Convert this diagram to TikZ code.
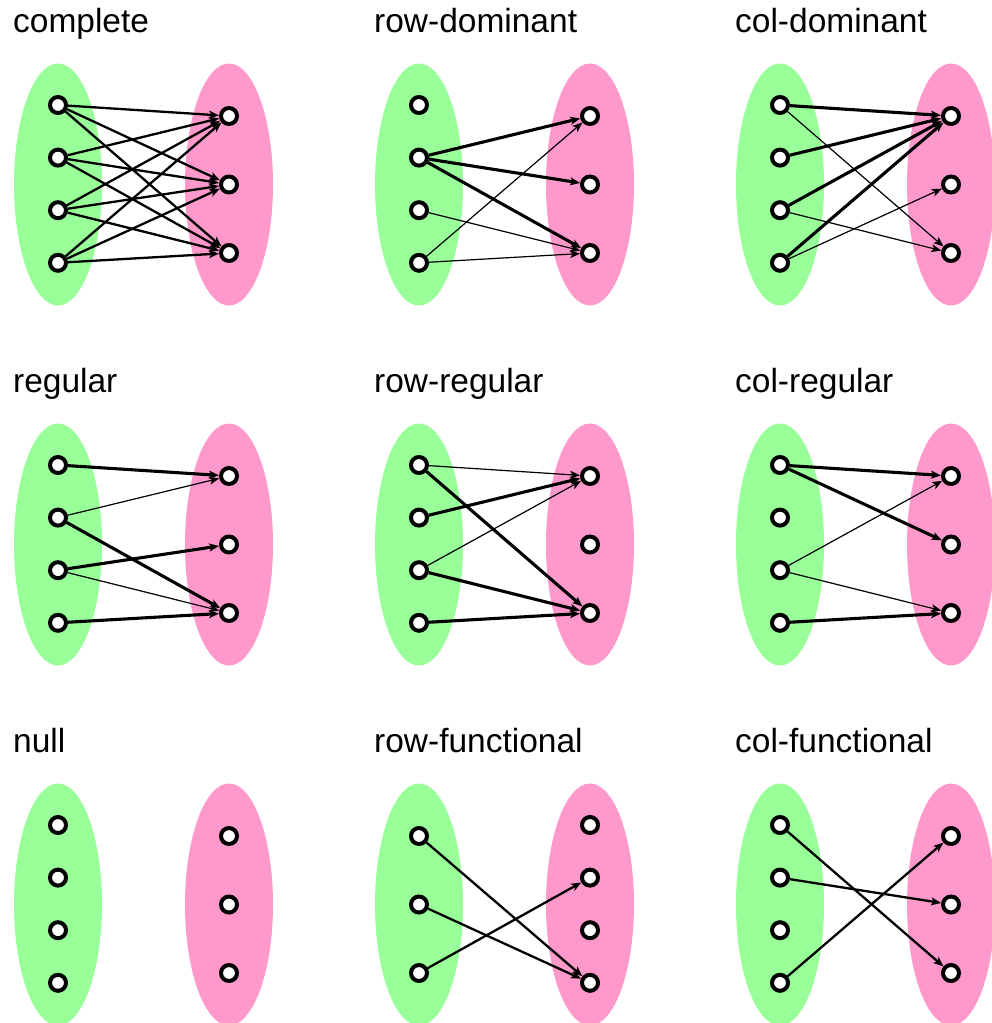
\documentclass[tikz,border=0pt]{standalone}
\usepackage{fontspec}
\setmainfont{Liberation Sans}
\usepackage{tikz}
\usetikzlibrary{arrows.meta,shapes.geometric,positioning}

\definecolor{setgreen}{RGB}{153,255,153}
\definecolor{setpink}{RGB}{255,153,204}

\begin{document}
\begin{tikzpicture}[x=1pt,y=-1pt,->,>={Stealth[length=10pt,width=8pt,inset=2.5pt]},
                    line width=2.3pt,node distance=52.6pt]
  \tikzstyle{vertex}=[circle,draw,fill=white,line width=4pt,inner sep=0pt,minimum size=16pt]
  \tikzstyle{rowset}=[ellipse,fill=setgreen,draw=none,minimum width=88pt,minimum height=242pt]
  \tikzstyle{colset}=[ellipse,fill=setpink,draw=none,minimum width=88pt,minimum height=242pt]
  \tikzstyle{title}=[anchor=base west,inner sep=0pt,font=\fontsize{33.5}{40}\selectfont]
  \tikzstyle{heavy}=[line width=3.1pt]
  \tikzstyle{light}=[line width=1.2pt]
  \tikzstyle{wide}=[node distance=68.5pt]

  \useasboundingbox (0,0) rectangle (992,1023);

  % complete
  \begin{scope}[shift={(0,0)}]
    \node[rowset] (coG) at (58,184.5) {};
    \node[colset] (coP) at (229,184.5) {};
    \node[title]  (coT) at (12,32) {complete};
    \node[vertex] (coL1) at (58,105) {};
    \node[vertex] (coL2) [below of=coL1] {};
    \node[vertex] (coL3) [below of=coL2] {};
    \node[vertex] (coL4) [below of=coL3] {};
    \node[vertex] (coR1) at (229,116) {};
    \node[vertex] (coR2) [below of=coR1,wide] {};
    \node[vertex] (coR3) [below of=coR2,wide] {};
    \path (coL1) edge (coR1) edge (coR2) edge (coR3)
          (coL2) edge (coR1) edge (coR2) edge (coR3)
          (coL3) edge (coR1) edge (coR2) edge (coR3)
          (coL4) edge (coR1) edge (coR2) edge (coR3);
  \end{scope}

  % row-dominant
  \begin{scope}[shift={(361,0)}]
    \node[rowset] (rdG) at (58,184.5) {};
    \node[colset] (rdP) at (229,184.5) {};
    \node[title]  (rdT) at (12,32) {row-dominant};
    \node[vertex] (rdL1) at (58,105) {};
    \node[vertex] (rdL2) [below of=rdL1] {};
    \node[vertex] (rdL3) [below of=rdL2] {};
    \node[vertex] (rdL4) [below of=rdL3] {};
    \node[vertex] (rdR1) at (229,116) {};
    \node[vertex] (rdR2) [below of=rdR1,wide] {};
    \node[vertex] (rdR3) [below of=rdR2,wide] {};
    \path (rdL2) edge [heavy] (rdR1) edge [heavy] (rdR2) edge [heavy] (rdR3)
          (rdL3) edge [light] (rdR3)
          (rdL4) edge [light] (rdR1) edge [light] (rdR3);
  \end{scope}

  % col-dominant
  \begin{scope}[shift={(722,0)}]
    \node[rowset] (cdG) at (58,184.5) {};
    \node[colset] (cdP) at (229,184.5) {};
    \node[title]  (cdT) at (12,32) {col-dominant};
    \node[vertex] (cdL1) at (58,105) {};
    \node[vertex] (cdL2) [below of=cdL1] {};
    \node[vertex] (cdL3) [below of=cdL2] {};
    \node[vertex] (cdL4) [below of=cdL3] {};
    \node[vertex] (cdR1) at (229,116) {};
    \node[vertex] (cdR2) [below of=cdR1,wide] {};
    \node[vertex] (cdR3) [below of=cdR2,wide] {};
    \path (cdL1) edge [heavy] (cdR1) edge [light] (cdR3)
          (cdL2) edge [heavy] (cdR1)
          (cdL3) edge [heavy] (cdR1) edge [light] (cdR3)
          (cdL4) edge [heavy] (cdR1) edge [light] (cdR2);
  \end{scope}

  % regular
  \begin{scope}[shift={(0,360)}]
    \node[rowset] (reG) at (58,184.5) {};
    \node[colset] (reP) at (229,184.5) {};
    \node[title]  (reT) at (12,32) {regular};
    \node[vertex] (reL1) at (58,105) {};
    \node[vertex] (reL2) [below of=reL1] {};
    \node[vertex] (reL3) [below of=reL2] {};
    \node[vertex] (reL4) [below of=reL3] {};
    \node[vertex] (reR1) at (229,116) {};
    \node[vertex] (reR2) [below of=reR1,wide] {};
    \node[vertex] (reR3) [below of=reR2,wide] {};
    \path (reL1) edge [heavy] (reR1)
          (reL2) edge [light] (reR1) edge [heavy] (reR3)
          (reL3) edge [heavy] (reR2) edge [light] (reR3)
          (reL4) edge [heavy] (reR3);
  \end{scope}

  % row-regular
  \begin{scope}[shift={(361,360)}]
    \node[rowset] (rrG) at (58,184.5) {};
    \node[colset] (rrP) at (229,184.5) {};
    \node[title]  (rrT) at (12,32) {row-regular};
    \node[vertex] (rrL1) at (58,105) {};
    \node[vertex] (rrL2) [below of=rrL1] {};
    \node[vertex] (rrL3) [below of=rrL2] {};
    \node[vertex] (rrL4) [below of=rrL3] {};
    \node[vertex] (rrR1) at (229,116) {};
    \node[vertex] (rrR2) [below of=rrR1,wide] {};
    \node[vertex] (rrR3) [below of=rrR2,wide] {};
    \path (rrL1) edge [light] (rrR1) edge [heavy] (rrR3)
          (rrL2) edge [heavy] (rrR1)
          (rrL3) edge [light] (rrR1) edge [heavy] (rrR3)
          (rrL4) edge [heavy] (rrR3);
  \end{scope}

  % col-regular
  \begin{scope}[shift={(722,360)}]
    \node[rowset] (crG) at (58,184.5) {};
    \node[colset] (crP) at (229,184.5) {};
    \node[title]  (crT) at (12,32) {col-regular};
    \node[vertex] (crL1) at (58,105) {};
    \node[vertex] (crL2) [below of=crL1] {};
    \node[vertex] (crL3) [below of=crL2] {};
    \node[vertex] (crL4) [below of=crL3] {};
    \node[vertex] (crR1) at (229,116) {};
    \node[vertex] (crR2) [below of=crR1,wide] {};
    \node[vertex] (crR3) [below of=crR2,wide] {};
    \path (crL1) edge [heavy] (crR1) edge [heavy] (crR2)
          (crL3) edge [light] (crR1) edge [light] (crR3)
          (crL4) edge [heavy] (crR3);
  \end{scope}

  % null
  \begin{scope}[shift={(0,720)}]
    \node[rowset] (nuG) at (58,184.5) {};
    \node[colset] (nuP) at (229,184.5) {};
    \node[title]  (nuT) at (12,32) {null};
    \node[vertex] (nuL1) at (58,105) {};
    \node[vertex] (nuL2) [below of=nuL1] {};
    \node[vertex] (nuL3) [below of=nuL2] {};
    \node[vertex] (nuL4) [below of=nuL3] {};
    \node[vertex] (nuR1) at (229,116) {};
    \node[vertex] (nuR2) [below of=nuR1,wide] {};
    \node[vertex] (nuR3) [below of=nuR2,wide] {};
  \end{scope}

  % row-functional
  \begin{scope}[shift={(361,720)}]
    \node[rowset] (rfG) at (58,184.5) {};
    \node[colset] (rfP) at (229,184.5) {};
    \node[title]  (rfT) at (12,32) {row-functional};
    \node[vertex] (rfL1) at (58,116) {};
    \node[vertex] (rfL2) [below of=rfL1,wide] {};
    \node[vertex] (rfL3) [below of=rfL2,wide] {};
    \node[vertex] (rfR1) at (229,105) {};
    \node[vertex] (rfR2) [below of=rfR1] {};
    \node[vertex] (rfR3) [below of=rfR2] {};
    \node[vertex] (rfR4) [below of=rfR3] {};
    \path (rfL1) edge (rfR4)
          (rfL2) edge (rfR4)
          (rfL3) edge (rfR2);
  \end{scope}

  % col-functional
  \begin{scope}[shift={(722,720)}]
    \node[rowset] (cfG) at (58,184.5) {};
    \node[colset] (cfP) at (229,184.5) {};
    \node[title]  (cfT) at (12,32) {col-functional};
    \node[vertex] (cfL1) at (58,105) {};
    \node[vertex] (cfL2) [below of=cfL1] {};
    \node[vertex] (cfL3) [below of=cfL2] {};
    \node[vertex] (cfL4) [below of=cfL3] {};
    \node[vertex] (cfR1) at (229,116) {};
    \node[vertex] (cfR2) [below of=cfR1,wide] {};
    \node[vertex] (cfR3) [below of=cfR2,wide] {};
    \path (cfL1) edge (cfR3)
          (cfL2) edge (cfR2)
          (cfL4) edge (cfR1);
  \end{scope}
\end{tikzpicture}
\end{document}
